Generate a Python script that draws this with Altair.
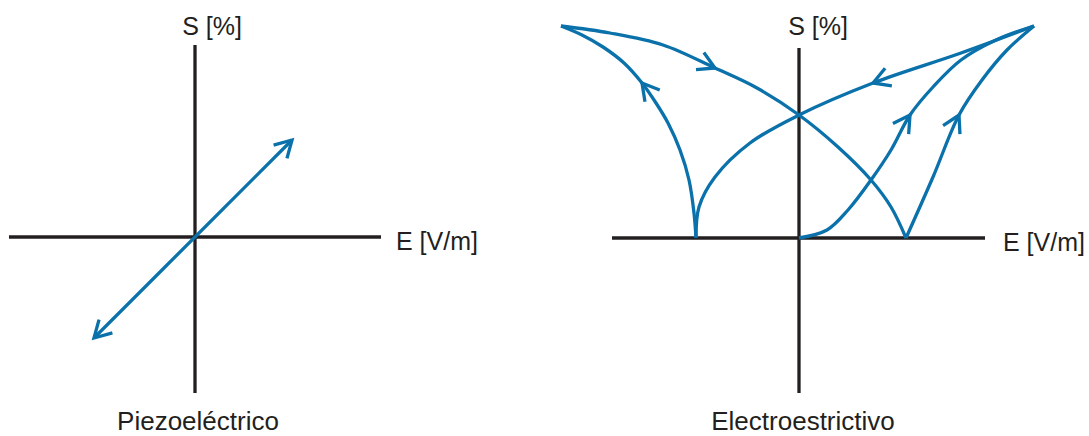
import math

import altair as alt
import pandas as pd

BLUE = "#0a71ab"
INK = "#231f20"
FONT = "Liberation Sans"
PX = 100  # pixels per data unit, same on both axes
STROKE = 3.3
ARROW_SHAPE = "M-1,-0.57L0,0L-1,0.57"  # open arrowhead, tip at the origin pointing +x

# ---- Piezoeléctrico: linear strain vs field -------------------------------
PIEZO_E = [-1.01, 0.97]
PIEZO_S = [-1.01, 0.97]

PIEZO_AXIS_E = [-1.86, 1.86]
PIEZO_AXIS_S = [-1.56, 1.92]

# ---- Electroestrictivo: butterfly loop branches ---------------------------
# first poling, from the origin to +Emax
POLING_E = [0.00, 0.28, 0.49, 0.72, 0.92, 1.11, 1.34, 1.62, 1.97, 2.35]
POLING_S = [0.00, 0.08, 0.28, 0.58, 0.88, 1.23, 1.51, 1.78, 1.98, 2.12]
# +Emax down to -Ec
DOWN_LEFT_E = [2.35, 1.62, 0.74, 0.00, -0.49, -0.84, -1.00, -1.03]
DOWN_LEFT_S = [2.12, 1.85, 1.55, 1.23, 0.95, 0.61, 0.31, 0.00]
# -Ec up to -Emax
UP_LEFT_E = [-1.03, -1.05, -1.10, -1.19, -1.31, -1.43, -1.57, -1.75, -1.96, -2.17, -2.38]
UP_LEFT_S = [0.00, 0.25, 0.58, 0.88, 1.15, 1.35, 1.55, 1.75, 1.91, 2.03, 2.12]
# -Emax down to +Ec
DOWN_RIGHT_E = [-2.38, -1.89, -1.36, -0.84, -0.42, 0.00, 0.39, 0.72, 0.92, 1.07]
DOWN_RIGHT_S = [2.12, 2.05, 1.93, 1.70, 1.50, 1.23, 0.91, 0.58, 0.31, 0.00]
# +Ec up to +Emax
UP_RIGHT_E = [1.07, 1.34, 1.60, 1.83, 2.08, 2.35]
UP_RIGHT_S = [0.00, 0.61, 1.23, 1.58, 1.88, 2.12]

# index of the point on each branch that carries the direction arrow
BRANCH_ARROW_AT = {"poling": 5, "down_left": 2, "up_left": 6, "down_right": 3, "up_right": 2}

ELECTRO_AXIS_E = [-1.87, 1.86]
ELECTRO_AXIS_S = [-1.55, 1.90]


def scales(width, height, e0_px, s0_px):
    xs = alt.Scale(domain=[-e0_px / PX, (width - e0_px) / PX], zero=False, nice=False)
    ys = alt.Scale(domain=[-(height - s0_px) / PX, s0_px / PX], zero=False, nice=False)
    return xs, ys


def heading(e_prev, s_prev, e_next, s_next):
    # screen angle (clockwise, y down) of the travel direction
    return math.degrees(math.atan2(-(s_next - s_prev), e_next - e_prev)) % 360


def axes_layers(axis_e, axis_s, xs, ys):
    h = pd.DataFrame({"E": [axis_e[0]], "E2": [axis_e[1]], "S": [0.0]})
    v = pd.DataFrame({"E": [0.0], "S": [axis_s[0]], "S2": [axis_s[1]]})
    hr = alt.Chart(h).mark_rule(color=INK, strokeWidth=STROKE).encode(
        x=alt.X("E:Q", scale=xs, axis=None), x2="E2:Q",
        y=alt.Y("S:Q", scale=ys, axis=None))
    vr = alt.Chart(v).mark_rule(color=INK, strokeWidth=STROKE).encode(
        x=alt.X("E:Q", scale=xs, axis=None),
        y=alt.Y("S:Q", scale=ys, axis=None), y2="S2:Q")
    return [hr, vr]


def label_layers(rows, xs, ys, align):
    df = pd.DataFrame(rows, columns=["E", "S", "txt", "size"])
    out = []
    for size, grp in df.groupby("size"):
        out.append(alt.Chart(grp).mark_text(
            font=FONT, fontSize=float(size), color=INK, align=align, baseline="alphabetic"
        ).encode(x=alt.X("E:Q", scale=xs, axis=None),
                 y=alt.Y("S:Q", scale=ys, axis=None), text="txt:N"))
    return out


def arrowheads(df, xs, ys):
    return alt.Chart(df).mark_point(
        shape=ARROW_SHAPE, size=1100, filled=False, stroke=BLUE, strokeWidth=STROKE,
        opacity=1, strokeJoin="miter"
    ).encode(x=alt.X("E:Q", scale=xs, axis=None),
             y=alt.Y("S:Q", scale=ys, axis=None),
             angle=alt.Angle("angle:Q", scale=None))


# ---- left panel -------------------------------------------------------------
LW, RW, H = 545, 544, 436
xs_l, ys_l = scales(LW, H, 195, 237)

piezo_line = pd.DataFrame({"E": PIEZO_E, "S": PIEZO_S})
piezo_tips = pd.DataFrame({
    "E": [PIEZO_E[1], PIEZO_E[0]],
    "S": [PIEZO_S[1], PIEZO_S[0]],
    "angle": [heading(PIEZO_E[0], PIEZO_S[0], PIEZO_E[1], PIEZO_S[1]),
              heading(PIEZO_E[1], PIEZO_S[1], PIEZO_E[0], PIEZO_S[0])],
})

left = alt.layer(
    *axes_layers(PIEZO_AXIS_E, PIEZO_AXIS_S, xs_l, ys_l),
    alt.Chart(piezo_line).mark_line(color=BLUE, strokeWidth=STROKE).encode(
        x=alt.X("E:Q", scale=xs_l, axis=None), y=alt.Y("S:Q", scale=ys_l, axis=None)),
    arrowheads(piezo_tips, xs_l, ys_l),
    *label_layers([(0.17, 2.025, "S [%]", 25), (0.03, -1.93, "Piezoeléctrico", 26)],
                  xs_l, ys_l, "center"),
    *label_layers([(2.01, -0.13, "E [V/m]", 25)], xs_l, ys_l, "left"),
).properties(width=LW, height=H)

# ---- right panel ------------------------------------------------------------
xs_r, ys_r = scales(RW, H, 254, 238)

branches = {
    "poling": (POLING_E, POLING_S),
    "down_left": (DOWN_LEFT_E, DOWN_LEFT_S),
    "up_left": (UP_LEFT_E, UP_LEFT_S),
    "down_right": (DOWN_RIGHT_E, DOWN_RIGHT_S),
    "up_right": (UP_RIGHT_E, UP_RIGHT_S),
}
rows, tips = [], []
for name, (es, ss) in branches.items():
    for i, (e, s) in enumerate(zip(es, ss)):
        rows.append({"branch": name, "i": i, "E": e, "S": s})
    k = BRANCH_ARROW_AT[name]
    tips.append({"E": es[k], "S": ss[k],
                 "angle": heading(es[k - 1], ss[k - 1], es[k + 1], ss[k + 1])})
loop = pd.DataFrame(rows)
loop_tips = pd.DataFrame(tips)

right = alt.layer(
    *axes_layers(ELECTRO_AXIS_E, ELECTRO_AXIS_S, xs_r, ys_r),
    alt.Chart(loop).mark_line(color=BLUE, strokeWidth=STROKE, interpolate="catmull-rom").encode(
        x=alt.X("E:Q", scale=xs_r, axis=None), y=alt.Y("S:Q", scale=ys_r, axis=None),
        detail="branch:N", order="i:Q"),
    arrowheads(loop_tips, xs_r, ys_r),
    *label_layers([(0.19, 2.035, "S [%]", 25), (0.04, -1.92, "Electroestrictivo", 26)],
                  xs_r, ys_r, "center"),
    *label_layers([(2.04, -0.13, "E [V/m]", 25)], xs_r, ys_r, "left"),
).properties(width=RW, height=H)

chart = alt.hconcat(left, right, spacing=0).properties(
    padding=0, background="white"
).configure_view(stroke=None)

chart.save("out.html", embed_options={"renderer": "svg", "actions": False})
